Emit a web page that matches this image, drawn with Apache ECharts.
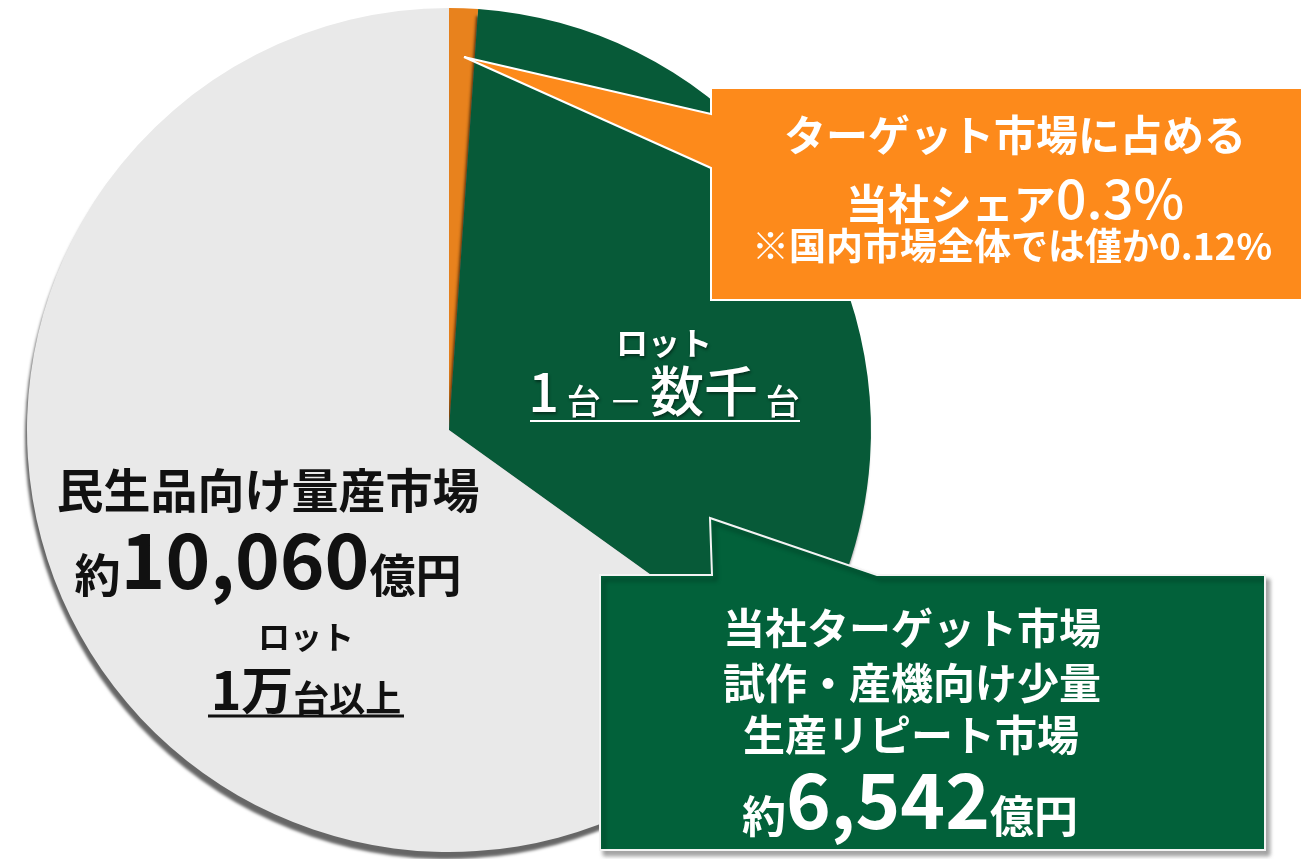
<!DOCTYPE html>
<html>
<head>
<meta charset="utf-8">
<script src="https://cdn.jsdelivr.net/npm/echarts@6/dist/echarts.min.js"></script>
<style>
  html, body { margin: 0; padding: 0; background: #fff; }
  #chart { width: 1306px; height: 859px; }
</style>
</head>
<body>
<div id="chart"></div>
<script>
// slice shares (percent of the full circle)
const sliceNames = ['当社シェア', '当社ターゲット市場', '民生品向け量産市場']
const sliceValues = [1.1, 33.8, 65.1]
const sliceColors = ['#e8821d', '#075a38', '#e9e9e9']

// market sizes printed on the chart (億円)
const massMarketSize = '10,060'
const targetMarketSize = '6,542'
const targetShare = '0.3%'
const domesticShare = '0.12%'

const FONT = '"Noto Sans CJK JP", "Noto Sans", sans-serif'
const f = (size, weight) => (weight || 'bold') + ' ' + size + 'px ' + FONT

const chart = echarts.init(document.getElementById('chart'))

const whiteShadow = {
  textShadowColor: 'rgba(0,0,0,0.45)',
  textShadowBlur: 3,
  textShadowOffsetX: 1,
  textShadowOffsetY: 2
}

const options = {
  animation: false,
  series: [
    {
      type: 'pie',
      center: [449, 430],
      radius: 422,
      startAngle: 90,
      clockwise: true,
      silent: true,
      label: { show: false },
      labelLine: { show: false },
      itemStyle: {
        shadowColor: 'rgba(0,0,0,0.6)',
        shadowBlur: 3,
        shadowOffsetX: -2,
        shadowOffsetY: 7
      },
      data: sliceNames.map((name, i) => ({
        name: name,
        value: sliceValues[i],
        itemStyle: { color: sliceColors[i] }
      }))
    }
  ],
  graphic: [
    // orange callout with pointer into the small slice
    {
      type: 'polygon',
      z: 100,
      shape: {
        points: [[711, 88], [1302, 88], [1302, 300], [711, 300], [711, 168], [464, 57], [711, 114]]
      },
      style: { fill: '#fd8a1b', stroke: '#fff', lineWidth: 2 }
    },
    // green callout with pointer into the green slice
    {
      type: 'polygon',
      z: 100,
      shape: {
        points: [[600, 575], [712, 575], [710, 518], [877, 575], [1265, 575], [1265, 850], [600, 850]]
      },
      style: {
        fill: '#02613a', stroke: '#f4f4f4', lineWidth: 2,
        shadowColor: 'rgba(0,0,0,0.35)', shadowBlur: 4, shadowOffsetX: 4, shadowOffsetY: 5
      }
    },
    // orange callout text
    {
      type: 'text', z: 110,
      style: { text: 'ターゲット市場に占める', x: 1015, y: 135, align: 'center', verticalAlign: 'middle', font: f(42), fill: '#fff' }
    },
    {
      type: 'text', z: 110,
      style: {
        text: '{a|当社シェア}{b|' + targetShare + '}', x: 1015, y: 198, align: 'center', verticalAlign: 'middle', fill: '#fff',
        rich: {
          a: { font: f(42), fill: '#fff', verticalAlign: 'bottom' },
          b: { font: f(54, 500), fill: '#fff', verticalAlign: 'bottom' }
        }
      }
    },
    {
      type: 'text', z: 110,
      style: { text: '※国内市場全体では僅か' + domesticShare, x: 1012, y: 246, align: 'center', verticalAlign: 'middle', font: f(37), fill: '#fff' }
    },
    // green callout text
    {
      type: 'text', z: 110,
      style: { text: '当社ターゲット市場', x: 912, y: 628, align: 'center', verticalAlign: 'middle', font: f(42), fill: '#fff' }
    },
    {
      type: 'text', z: 110,
      style: { text: '試作・産機向け少量', x: 912, y: 683, align: 'center', verticalAlign: 'middle', font: f(42), fill: '#fff' }
    },
    {
      type: 'text', z: 110,
      style: { text: '生産リピート市場', x: 911, y: 735, align: 'center', verticalAlign: 'middle', font: f(42), fill: '#fff' }
    },
    {
      type: 'text', z: 110,
      style: {
        text: '{a|約}{b|' + targetMarketSize + '}{a|億円}', x: 910, y: 800, align: 'center', verticalAlign: 'middle', fill: '#fff',
        rich: {
          a: { font: f(44), fill: '#fff', verticalAlign: 'bottom' },
          b: { font: f(76), fill: '#fff', verticalAlign: 'bottom' }
        }
      }
    },
    // labels inside the green slice
    {
      type: 'text', z: 110,
      style: Object.assign({ text: 'ロット', x: 664, y: 343, align: 'center', verticalAlign: 'middle', font: f(32), fill: '#fff' }, whiteShadow)
    },
    {
      type: 'text', z: 110,
      style: Object.assign({
        text: '{a|1}{b| 台 }{c|－}{b| }{a|数千}{b| 台}', x: 664, y: 391, align: 'center', verticalAlign: 'middle', fill: '#fff',
        rich: {
          a: { font: f(54, 500), fill: '#fff', verticalAlign: 'bottom' },
          b: { font: f(34, 500), fill: '#fff', verticalAlign: 'bottom' },
          c: { font: f(34, 400), fill: '#fff', verticalAlign: 'bottom' }
        }
      }, whiteShadow)
    },
    {
      type: 'line', z: 110,
      shape: { x1: 530, y1: 421, x2: 800, y2: 421 },
      style: { stroke: '#fff', lineWidth: 2 }
    },
    // labels inside the grey slice
    {
      type: 'text', z: 110,
      style: { text: '民生品向け量産市場', x: 268, y: 490, align: 'center', verticalAlign: 'middle', font: f(47), fill: '#111' }
    },
    {
      type: 'text', z: 110,
      style: {
        text: '{a|約}{b|' + massMarketSize + '}{a|億円}', x: 268, y: 560, align: 'center', verticalAlign: 'middle', fill: '#111',
        rich: {
          a: { font: f(46), fill: '#111', verticalAlign: 'bottom' },
          b: { font: f(76), fill: '#111', verticalAlign: 'bottom' }
        }
      }
    },
    {
      type: 'text', z: 110,
      style: { text: 'ロット', x: 306, y: 637, align: 'center', verticalAlign: 'middle', font: f(32), fill: '#111' }
    },
    {
      type: 'text', z: 110,
      style: {
        text: '{a|1万}{b|台以上}', x: 306, y: 690, align: 'center', verticalAlign: 'middle', fill: '#111',
        rich: {
          a: { font: f(52), fill: '#111', verticalAlign: 'bottom' },
          b: { font: f(36), fill: '#111', verticalAlign: 'bottom' }
        }
      }
    },
    {
      type: 'line', z: 110,
      shape: { x1: 208, y1: 716, x2: 404, y2: 716 },
      style: { stroke: '#111', lineWidth: 3 }
    }
  ]
}

chart.setOption(options)
</script>
</body>
</html>
